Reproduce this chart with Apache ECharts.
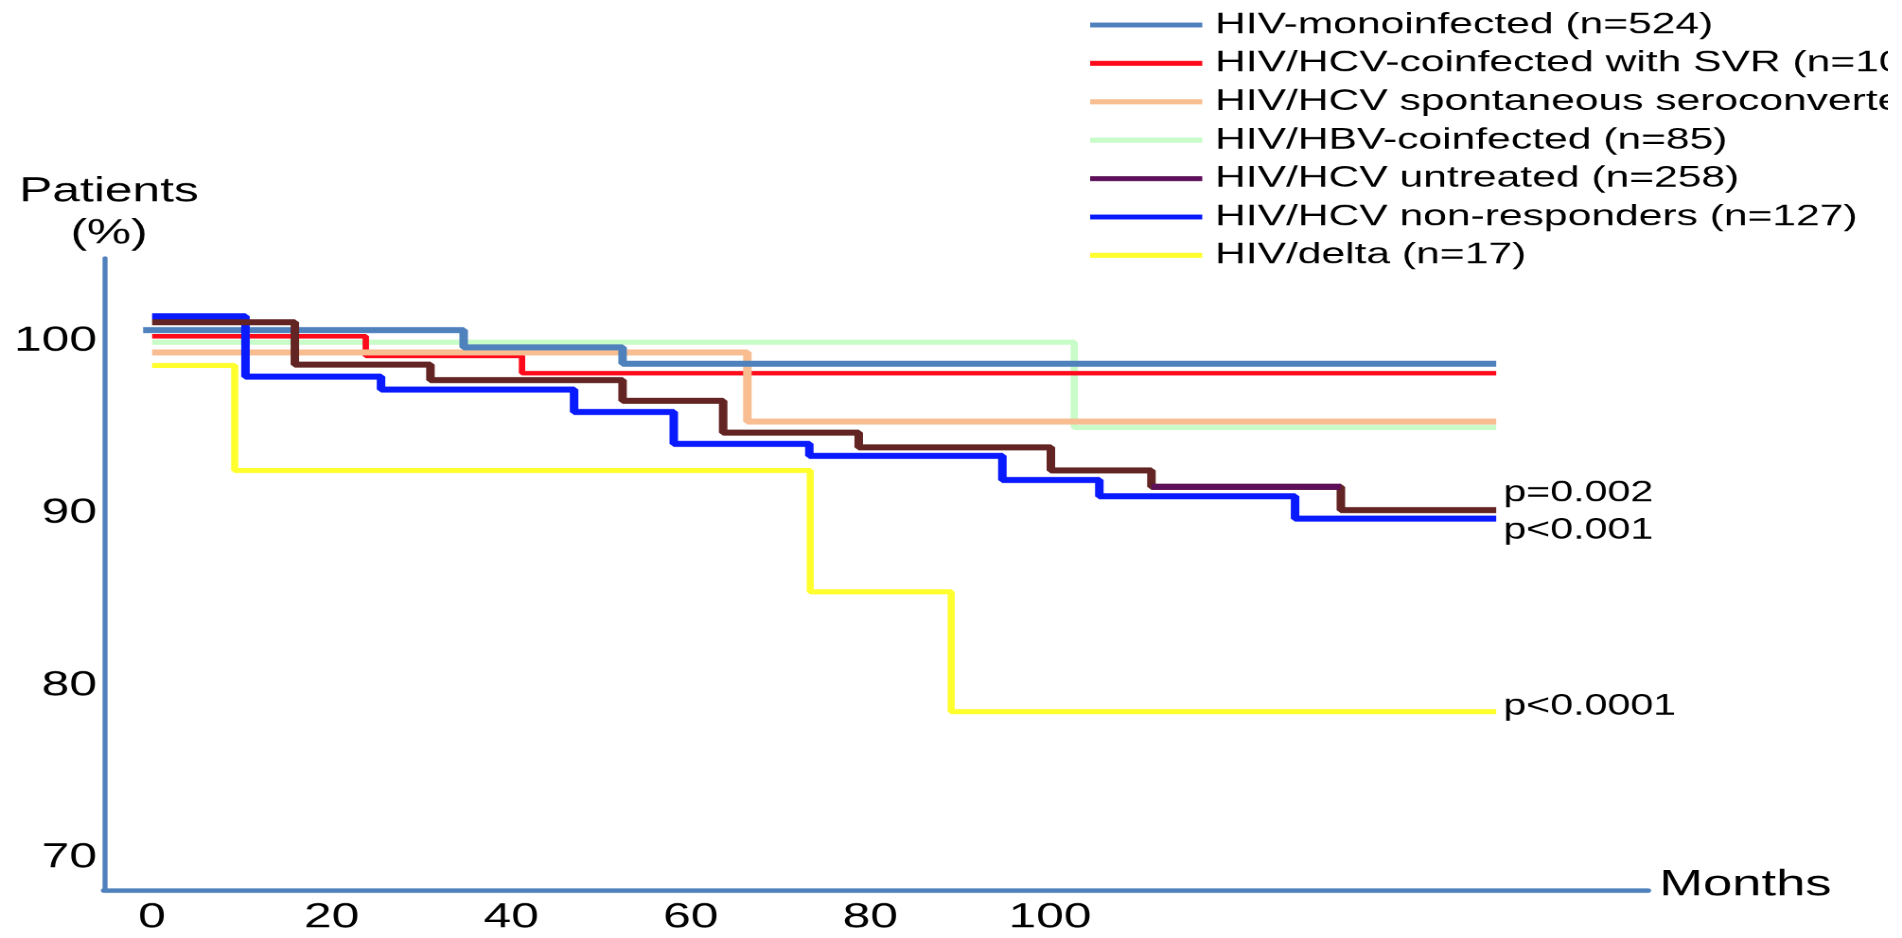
<!DOCTYPE html>
<html>
<head>
<meta charset="utf-8">
<script src="https://cdn.jsdelivr.net/npm/echarts@6/dist/echarts.min.js"></script>
<style>
  html, body { margin: 0; padding: 0; background: #fff; }
  #wrap { width: 1902px; height: 938px; overflow: hidden; background: #fff; }
  #chart { width: 1330px; height: 938px; transform: scaleX(1.4194); transform-origin: 0 0; }
</style>
</head>
<body>
<div id="wrap"><div id="chart"></div></div>
<script>
// ---- data (months, % patients) ----
const seriesNames = [
  'HIV-monoinfected (n=524)',
  'HIV/HCV-coinfected with SVR (n=10',
  'HIV/HCV spontaneous seroconverte',
  'HIV/HBV-coinfected (n=85)',
  'HIV/HCV untreated (n=258)',
  'HIV/HCV non-responders (n=127)',
  'HIV/delta (n=17)'
];
const monoX = [-1, 34.7, 52.4, 149.7];
const monoY = [100.63, 99.63, 98.68, 98.68];
const svrX = [0, 23.8, 41.2, 149.7];
const svrY = [100.28, 99.13, 98.13, 98.13];
const spontX = [0, 66.3, 149.7];
const spontY = [99.33, 95.33, 95.33];
const hbvX = [0, 102.7, 149.7];
const hbvY = [99.93, 94.98, 94.98];
const untreatedX = [0, 15.9, 31.0, 52.4, 63.6, 78.7, 100.1, 111.3, 132.4, 149.7];
const untreatedY = [101.08, 98.63, 97.73, 96.53, 94.68, 93.83, 92.48, 91.53, 90.18, 90.18];
const nonRespX = [0, 10.4, 25.5, 47.0, 58.1, 73.2, 94.7, 105.5, 127.3, 149.7];
const nonRespY = [101.43, 97.93, 97.18, 95.88, 94.03, 93.33, 91.93, 90.98, 89.68, 89.68];
const deltaX = [0, 9.2, 73.3, 89.0, 149.7];
const deltaY = [98.58, 92.48, 85.43, 78.48, 78.48];
const xTicks = [0, 20, 40, 60, 80, 100];
const yTicks = [70, 80, 90, 100];
const pLabels = { untreated: 'p=0.002', nonResp: 'p<0.001', delta: 'p<0.0001' };

// ---- styling ----
const FONT = "'Liberation Sans', Arial, sans-serif";
const C = {
  mono: '#4F81BD', svr: '#FF0A1A', spont: '#F8BE91', hbv: '#C8FCC8',
  untreated: '#632523', untreatedLegend: '#5E0F5A', nonResp: '#0A1AFF', delta: '#FFFF2E', axis: '#4F81BD'
};
const pairs = (xs, ys) => xs.map((x, i) => [x, ys[i]]);

function km(name, xs, ys, color, width, extra) {
  return Object.assign({
    type: 'line', name: name, data: pairs(xs, ys), step: 'end', symbol: 'none',
    itemStyle: { color: color }, lineStyle: { color: color, width: width },
    emphasis: { disabled: true }
  }, extra || {});
}
function endLab(text, dy) {
  return { endLabel: { show: true, formatter: text, color: '#000', fontSize: 29, fontFamily: FONT, offset: [0, dy], distance: 5 } };
}

const chart = echarts.init(document.getElementById('chart'), null, { devicePixelRatio: 1.5 });
chart.setOption({
  animation: false,
  backgroundColor: '#fff',
  grid: { left: 73.3, right: 169, top: 258, bottom: 48, containLabel: false },
  legend: {
    orient: 'vertical', left: 763, top: 5, icon: 'rect', itemWidth: 79, itemHeight: 5, itemGap: 8.4,
    selectedMode: false,
    textStyle: { fontSize: 30, lineHeight: 30, color: '#000', fontFamily: FONT, padding: [0, 0, 0, 4] },
    data: [
      { name: seriesNames[0] }, { name: seriesNames[1] }, { name: seriesNames[2] }, { name: seriesNames[3] },
      { name: seriesNames[4], itemStyle: { color: C.untreatedLegend } },
      { name: seriesNames[5] }, { name: seriesNames[6] }
    ]
  },
  xAxis: {
    type: 'value', min: -5.35, max: 166.6,
    name: 'Months', nameLocation: 'end', nameGap: 8,
    nameTextStyle: { fontSize: 37, lineHeight: 10, color: '#000', fontFamily: FONT, verticalAlign: 'bottom' },
    axisLine: { show: true, onZero: false, lineStyle: { color: C.axis, width: 4.5 } },
    axisTick: { show: false }, splitLine: { show: false },
    axisLabel: { customValues: xTicks, fontSize: 35, color: '#000', fontFamily: FONT, margin: 10 }
  },
  yAxis: {
    type: 'value', min: 68.12, max: 104.82,
    name: 'Patients\n(%)', nameLocation: 'end', nameGap: 3,
    nameTextStyle: { fontSize: 35, lineHeight: 42, color: '#000', fontFamily: FONT, align: 'center', verticalAlign: 'bottom', padding: [0, 0, 0, 7] },
    axisLine: { show: true, onZero: false, lineStyle: { color: C.axis, width: 3.5 } },
    axisTick: { show: false }, splitLine: { show: false },
    axisLabel: { customValues: yTicks, fontSize: 35, color: '#000', fontFamily: FONT, margin: 5 }
  },
  series: [
    km(seriesNames[3], hbvX, hbvY, C.hbv, 5),
    km(seriesNames[1], svrX, svrY, C.svr, 4.5),
    km(seriesNames[2], spontX, spontY, C.spont, 6),
    km(seriesNames[0], monoX, monoY, C.mono, 6),
    km(seriesNames[6], deltaX, deltaY, C.delta, 5, endLab(pLabels.delta, -5)),
    km(seriesNames[5], nonRespX, nonRespY, C.nonResp, 6, endLab(pLabels.nonResp, 12)),
    km(seriesNames[4], untreatedX, untreatedY, C.untreated, 6, endLab(pLabels.untreated, -17)),
    {
      type: 'line', name: 'untreated-segment', silent: true, symbol: 'none',
      data: [[untreatedX[7], untreatedY[7]], [untreatedX[8], untreatedY[7]]],
      lineStyle: { color: C.untreatedLegend, width: 6 }, itemStyle: { color: C.untreatedLegend }
    }
  ]
});
</script>
</body>
</html>
